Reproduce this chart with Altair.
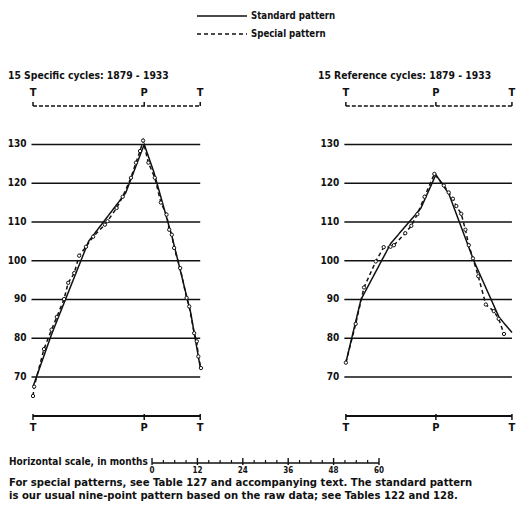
import altair as alt
import pandas as pd

# ---------------- data (months from initial trough, index values) ----------------
left_title = "15 Specific cycles: 1879 - 1933"
right_title = "15 Reference cycles: 1879 - 1933"

left_stage_months = [0, 4.9, 14.7, 24.5, 29.4, 31.9, 36.8, 41.7, 44.2]
left_standard = [67.5, 81.0, 105.0, 117.5, 130.0, 123.0, 106.0, 86.5, 72.5]
left_special_months = [0, 0.3, 2.9, 4.9, 6.3, 8.2, 9.3, 10.9, 12.2, 14.0, 15.9, 19.0, 19.7,
                       22.1, 23.7, 25.9, 27.2, 28.3, 29.1, 30.5, 32.2, 33.8, 35.3, 36.0,
                       36.7, 37.3, 38.9, 40.6, 41.3, 42.6, 43.3, 43.7, 44.4]
left_special = [65.1, 67.5, 77.2, 82.2, 85.5, 90.1, 94.3, 96.8, 101.3, 103.6, 106.2, 109.3,
                110.2, 113.6, 116.5, 121.4, 125.3, 128.3, 131.0, 125.3, 121.4, 115.0, 111.9,
                108.0, 106.7, 103.3, 98.1, 90.4, 88.2, 81.3, 79.2, 75.3, 72.3]
left_turns = [0, 29.4, 44.2]

right_stage_months = [0, 4.0, 11.9, 19.8, 23.8, 27.2, 33.9, 40.5, 43.9]
right_standard = [73.7, 90.0, 104.5, 113.5, 122.2, 117.3, 99.8, 85.4, 81.5]
right_special_months = [0, 2.6, 4.8, 7.9, 10.0, 11.8, 12.7, 15.7, 17.3, 18.9, 20.8, 23.4,
                        25.9, 27.2, 28.3, 29.2, 30.5, 31.6, 32.5, 33.6, 35.0, 37.0, 39.1,
                        40.4, 41.8]
right_special = [73.7, 83.7, 93.1, 99.8, 103.5, 103.6, 104.0, 107.1, 109.0, 112.0, 116.5,
                 122.4, 119.4, 117.6, 116.0, 114.1, 112.1, 108.0, 104.0, 100.6, 96.0, 88.7,
                 87.0, 85.0, 81.1]
right_turns = [0, 23.8, 43.9]

grid_values = [70, 80, 90, 100, 110, 120, 130]
turn_labels = ["T", "P", "T"]
scale_labels = [0, 12, 24, 36, 48, 60]
series_names = ["Standard pattern", "Special pattern"]
foot_lines = [
    "For special patterns, see Table 127 and accompanying text. The standard pattern",
    "is our usual nine-point pattern based on the raw data; see Tables 122 and 128.",
]

# ---------------- layout constants ----------------
RIGHT_OFFSET = 82.7    # months between the two panels' origins
BAR_OFFSET = 31.46     # months from left origin to the scale bar's 0
FONT = "DejaVu Sans Condensed"
W, H = 509, 500

xs = alt.Scale(domain=[-6.61, 127.94], nice=False, zero=False)
ys = alt.Scale(domain=[36.2, 165.2], nice=False, zero=False)

# ---------------- tables ----------------
rows = []
for panel, off, sm, sv, pm, pv in [
    ("L", 0.0, left_stage_months, left_standard, left_special_months, left_special),
    ("R", RIGHT_OFFSET, right_stage_months, right_standard, right_special_months, right_special),
]:
    for i, (m, v) in enumerate(zip(sm, sv)):
        rows.append(dict(panel=panel, series=series_names[0], m=m + off, v=v, i=i))
    for i, (m, v) in enumerate(zip(pm, pv)):
        rows.append(dict(panel=panel, series=series_names[1], m=m + off, v=v, i=i))
lines_df = pd.DataFrame(rows)
special_df = lines_df[lines_df.series == series_names[1]]

grid_rows, axis_rows, tlab_rows = [], [], []
for off, turns in [(0.0, left_turns), (RIGHT_OFFSET, right_turns)]:
    for g in grid_values:
        grid_rows.append(dict(x=off - 0.4, x2=off + turns[-1], v=g, lab=str(g)))
    axis_rows.append(dict(x=off, x2=off + turns[-1]))
    for t, lab in zip(turns, turn_labels):
        tlab_rows.append(dict(x=off + t, lab=lab))
grid_df = pd.DataFrame(grid_rows)
axis_df = pd.DataFrame(axis_rows)
tlab_df = pd.DataFrame(tlab_rows)

bar_ticks = pd.DataFrame(
    [dict(x=BAR_OFFSET + k, major=(k % 12 == 0)) for k in range(0, 61, 3)]
)
bar_labels = pd.DataFrame([dict(x=BAR_OFFSET + k, lab=str(k)) for k in scale_labels])
bar_df = pd.DataFrame([dict(x=BAR_OFFSET + scale_labels[0], x2=BAR_OFFSET + scale_labels[-1])])

X = lambda f: alt.X(f, type="quantitative", scale=xs, axis=None)
Y = lambda f: alt.Y(f, type="quantitative", scale=ys, axis=None)

base = alt.Chart(lines_df)

grid = alt.Chart(grid_df).mark_rule(color="#111", strokeWidth=1.6).encode(
    x=X("x"), x2="x2", y=Y("v"))
ylabels = alt.Chart(grid_df).mark_text(
    align="right", baseline="middle", dx=-5, font=FONT, fontSize=10,
    fontWeight="bold", color="#111").encode(x=X("x"), y=Y("v"), text="lab:N")

lines = base.mark_line(color="#111", strokeWidth=1.5).encode(
    x=X("m"), y=Y("v"), detail="panel:N", order="i:Q",
    strokeDash=alt.StrokeDash("series:N", legend=None,
        scale=alt.Scale(domain=series_names, range=[[1, 0], [4, 3]])))
pts = alt.Chart(special_df).mark_point(
    shape="circle", size=11, filled=True, fill="white", stroke="#111",
    strokeWidth=1, opacity=1).encode(x=X("m"), y=Y("v"))

# bottom axes
bot_line = alt.Chart(axis_df).mark_rule(color="#111", strokeWidth=2).encode(
    x=X("x"), x2="x2", y=alt.value(408))
bot_ticks = alt.Chart(tlab_df).mark_rule(color="#111", strokeWidth=1.5).encode(
    x=X("x"), y=alt.value(406), y2=alt.value(412))
bot_labels = alt.Chart(tlab_df).mark_text(
    font=FONT, fontSize=11, fontWeight="bold", color="#111", baseline="middle").encode(
    x=X("x"), y=alt.value(420), text="lab:N")

# top brackets
top_line = alt.Chart(axis_df).mark_rule(color="#111", strokeWidth=1.5,
    strokeDash=[4, 2]).encode(x=X("x"), x2="x2", y=alt.value(98))
top_ticks = alt.Chart(tlab_df).mark_rule(color="#111", strokeWidth=1.5).encode(
    x=X("x"), y=alt.value(94), y2=alt.value(98))
top_labels = alt.Chart(tlab_df).mark_text(
    font=FONT, fontSize=11, fontWeight="bold", color="#111", baseline="middle").encode(
    x=X("x"), y=alt.value(85), text="lab:N")

# titles
titles = alt.Chart(pd.DataFrame({"t": [left_title, right_title], "px": [0, 310]})).mark_text(
    align="left", baseline="middle", font=FONT, fontSize=10.3, fontWeight="bold",
    color="#111").encode(x=alt.X("px:Q", scale=None), y=alt.value(68), text="t:N")

# legend
leg_df = pd.DataFrame({"s": series_names, "py": [8, 26]})
leg_lines = alt.Chart(leg_df).mark_rule(color="#111", strokeWidth=1.6).encode(
    x=alt.value(189), x2=alt.value(239), y=alt.Y("py:Q", scale=None),
    strokeDash=alt.StrokeDash("s:N", legend=None,
        scale=alt.Scale(domain=series_names, range=[[1, 0], [4, 3]])))
leg_text = alt.Chart(leg_df).mark_text(
    align="left", baseline="middle", font=FONT, fontSize=9.6, fontWeight="bold",
    color="#111").encode(x=alt.value(243), y=alt.Y("py:Q", scale=None), text="s:N")

# horizontal scale bar
scale_title = alt.Chart(pd.DataFrame({"t": ["Horizontal scale, in months"]})).mark_text(
    align="left", baseline="middle", font=FONT, fontSize=10, fontWeight="bold",
    color="#111").encode(x=alt.value(1), y=alt.value(454), text="t:N")
bar_line = alt.Chart(bar_df).mark_rule(color="#111", strokeWidth=1.6).encode(
    x=X("x"), x2="x2", y=alt.value(455))
bar_minor = alt.Chart(bar_ticks[~bar_ticks.major]).mark_rule(color="#111", strokeWidth=1.2).encode(
    x=X("x"), y=alt.value(452), y2=alt.value(455))
bar_major = alt.Chart(bar_ticks[bar_ticks.major]).mark_rule(color="#111", strokeWidth=1.4).encode(
    x=X("x"), y=alt.value(450), y2=alt.value(457))
bar_text = alt.Chart(bar_labels).mark_text(
    baseline="middle", font=FONT, fontSize=8, fontWeight="bold", color="#111").encode(
    x=X("x"), y=alt.value(463), text="lab:N")

foot = alt.Chart(pd.DataFrame({"t": foot_lines, "py": [475, 488]})).mark_text(
    align="left", baseline="middle", font=FONT, fontSize=11.2, fontWeight="bold",
    color="#111").encode(x=alt.value(1), y=alt.Y("py:Q", scale=None), text="t:N")

chart = alt.layer(
    grid, ylabels, lines, pts, bot_line, bot_ticks, bot_labels,
    top_line, top_ticks, top_labels, titles, leg_lines, leg_text,
    scale_title, bar_line, bar_minor, bar_major, bar_text, foot,
).resolve_scale(strokeDash="independent").properties(
    width=W, height=H, autosize=alt.AutoSizeParams(type="none"), padding=0,
    background="white",
).configure_view(stroke=None)

chart.save("out.html", embed_options={"renderer": "svg", "actions": False})
